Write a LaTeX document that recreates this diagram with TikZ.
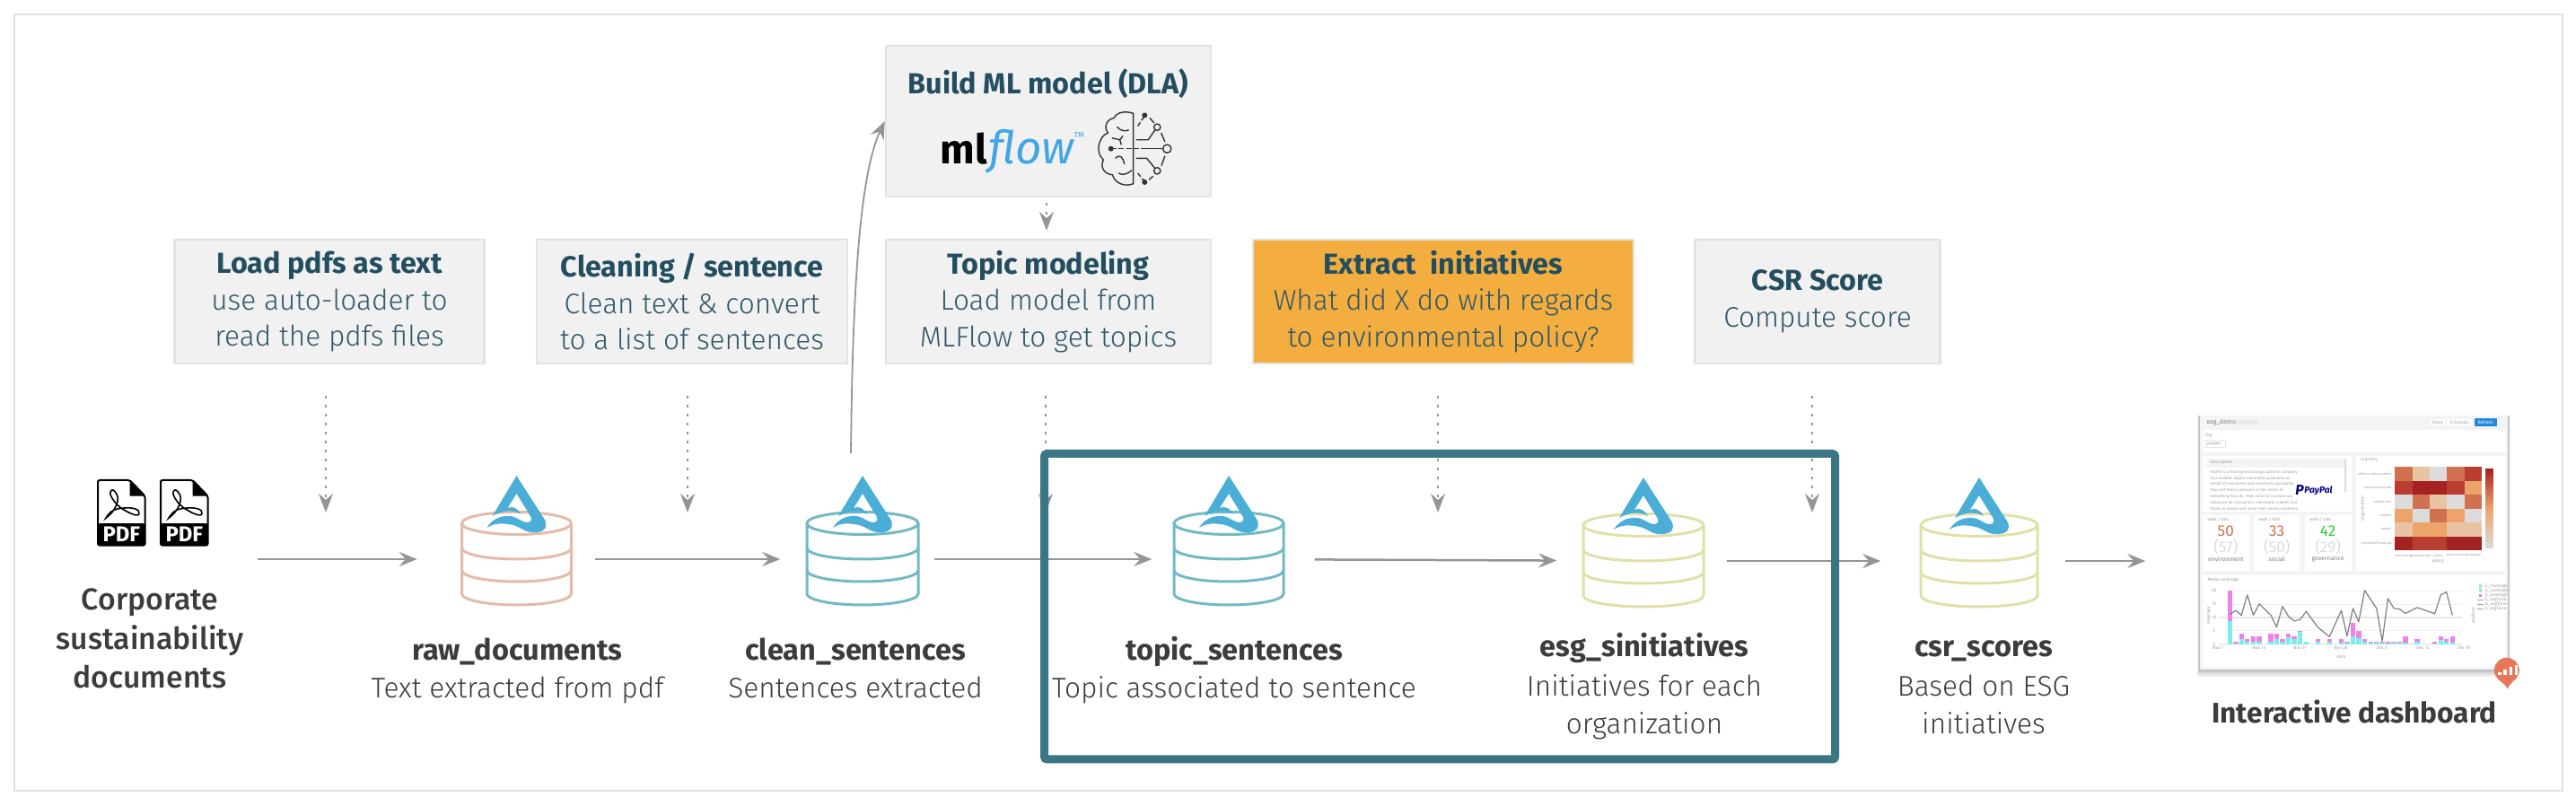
\documentclass[tikz,border=0pt]{standalone}
\usepackage{fontspec}
\setmainfont{Fira Sans}
\newfontfamily\lightface{Fira Sans Light}
\newfontfamily\mediumface{Fira Sans Medium}
\usetikzlibrary{arrows.meta,positioning,calc}
\definecolor{frameline}{HTML}{E0E0E0}
\definecolor{boxfill}{HTML}{F1F1F1}
\definecolor{boxline}{HTML}{E3E3E3}
\definecolor{boxhot}{HTML}{F4AE3F}
\definecolor{headtext}{HTML}{234E60}
\definecolor{bodytext}{HTML}{2F5768}
\definecolor{labeltext}{HTML}{3C3C3C}
\definecolor{flowgray}{HTML}{959595}
\definecolor{teamteal}{HTML}{3A7684}
\definecolor{lakeblue}{HTML}{4BAED6}
\definecolor{dbrose}{HTML}{E4BBA8}
\definecolor{dbteal}{HTML}{72B9C6}
\definecolor{dbolive}{HTML}{E0E1A8}
\definecolor{flowblue}{HTML}{43A5E8}
\definecolor{brainink}{HTML}{333333}
\definecolor{heatA}{HTML}{A52222}
\definecolor{heatB}{HTML}{B93E31}
\definecolor{heatC}{HTML}{D2714F}
\definecolor{heatD}{HTML}{ECA46A}
\definecolor{heatE}{HTML}{E9C4A4}
\definecolor{heatF}{HTML}{DCDCDC}
\definecolor{barpink}{HTML}{EE82E6}
\definecolor{barcyan}{HTML}{7EEDEA}
\definecolor{bargreen}{HTML}{9CF0A8}
\definecolor{pinorange}{HTML}{E8775A}
\definecolor{sheetgray}{HTML}{F3F4F5}
\definecolor{dashink}{HTML}{A0A0A0}
\tikzset{
  pics/lakedb/.style 2 args={code={
    % cylinder
    \draw[#1,line width=0.03cm] (0,0.40) ellipse [x radius=#2,y radius=0.125];
    \draw[#1,line width=0.03cm] (-#2,0.40) -- (-#2,-0.385)
      arc [start angle=180,end angle=360,x radius=#2,y radius=0.125] -- (#2,0.40);
    \draw[#1,line width=0.03cm] (-#2,0.125) arc [start angle=180,end angle=360,x radius=#2,y radius=0.125];
    \draw[#1,line width=0.03cm] (-#2,-0.125) arc [start angle=180,end angle=360,x radius=#2,y radius=0.125];
    % lake mark
    \begin{scope}[shift={(0,0.93)},x=0.01cm,y=-0.01cm]
      \fill[lakeblue] (0,0) -- (32,50) .. controls (35,59) and (30,64) .. (16,63)
        .. controls (8,62) and (4,57) .. (-4,55) .. controls (-14,53) and (-24,52) .. (-33,58)
        .. controls (-28,49) and (-18,44) .. (-7,45) .. controls (1,46) and (6,52) .. (11,52)
        .. controls (16,52) and (17,50) .. (16,46) -- (0,20) -- (-10,36)
        .. controls (-4,33) and (2,37) .. (5,43) .. controls (-3,38) and (-15,38) .. (-27,45) -- cycle;
    \end{scope}
  }},
  pics/pdficon/.style={code={
    \begin{scope}[x=0.00446cm,y=-0.00333cm]
      \draw[black,line width=0.02cm,fill=white,rounded corners=0.02cm] (0,0) -- (80,0) -- (118,53) -- (118,218) -- (0,218) -- cycle;
      \fill[black] (80,0) -- (118,53) -- (80,53) -- cycle;
      \fill[black,rounded corners=0.02cm] (0,145) rectangle (118,218);
      \draw[black,line width=0.016cm] plot[smooth cycle,tension=0.7] coordinates
        {(20,127) (40,100) (50,60) (38,33) (32,50) (55,90) (95,117) (102,103) (80,93) (40,100)};
      \node[text=white,font=\fontsize{6.8}{6.8}\selectfont\bfseries,inner sep=0] at (59,182) {PDF};
    \end{scope}
  }},
  stepbox/.style={rectangle, draw=boxline, fill=boxfill, line width=0.025cm, inner sep=0,
                  align=center, text=bodytext, font=\fontsize{9}{11.6}\selectfont\lightface},
  dbnode/.style={rectangle, inner sep=0, minimum height=1.02cm},
  dbname/.style={anchor=base, inner sep=0, text=labeltext, font=\fontsize{9.25}{11}\selectfont\bfseries},
  dbnote/.style={anchor=base, inner sep=0, text=labeltext, font=\fontsize{9}{11}\selectfont\lightface},
  sourcename/.style={anchor=base, inner sep=0, text=labeltext, font=\fontsize{9.6}{11}\selectfont\mediumface},
  flow/.style={draw=flowgray, line width=0.025cm, -{Stealth[length=0.2cm,width=0.16cm,inset=0.07cm]}},
  hint/.style={draw=flowgray, line width=0.025cm, dash pattern=on 0.025cm off 0.075cm,
               -{Stealth[length=0.21cm,width=0.16cm,inset=0.07cm]}},
  tiny/.style={inner sep=0, text=dashink, font=\fontsize{1.4}{2.3}\selectfont},
  statnum/.style={inner sep=0, font=\fontsize{4.9}{5}\selectfont},
  statname/.style={inner sep=0, text=dashink!80!black, font=\fontsize{1.95}{3}\selectfont}
}
\newcommand{\stephead}[1]{\textcolor{headtext}{\fontsize{9.2}{11.6}\selectfont\normalfont\bfseries #1}}
\begin{document}
\begin{tikzpicture}
\useasboundingbox (0,0) rectangle (28.7,8.98);
\draw[frameline,line width=0.025cm] (0.16,0.17) rectangle (28.55,8.82);

% step boxes
\node[stepbox,minimum width=3.45cm,minimum height=1.38cm] (loadbox) at (3.67,5.62)
  {\stephead{Load pdfs as text}\\use auto-loader to\\read the pdfs files};
\node[stepbox,minimum width=3.46cm,minimum height=1.38cm] (cleanbox) at (7.71,5.62)
  {\stephead{Cleaning / sentence}\\Clean text \& convert\\to a list of sentences};
\node[stepbox,minimum width=3.62cm,minimum height=1.38cm] (topicbox) at (11.68,5.62)
  {\stephead{Topic modeling}\\Load model from\\MLFlow to get topics};
\node[stepbox,fill=boxhot,minimum width=4.24cm,minimum height=1.38cm] (extractbox) at (16.08,5.62)
  {\stephead{Extract\ \ initiatives}\\What did X do with regards\\to environmental policy?};
\node[stepbox,minimum width=2.73cm,minimum height=1.38cm] (csrbox) at (20.25,5.62)
  {\stephead{CSR Score}\\Compute score};
\node[stepbox,minimum width=3.62cm,minimum height=1.68cm] (buildbox) at (11.68,7.63) {};
\node[inner sep=0] (buildtitle) at (11.68,8.05) {\stephead{Build ML model (DLA)}};

% mlflow word
\node[anchor=base west,inner sep=0,text=black,font=\fontsize{13}{13}\selectfont\bfseries] (mlword) at (10.47,7.15) {ml};
\node[anchor=base west,inner sep=0,text=flowblue,font=\fontsize{14.5}{15}\selectfont\itshape] (flowword) at (mlword.base east) {flow};
\node[anchor=west,inner sep=0,text=flowblue,font=\fontsize{2.5}{3}\selectfont] (flowtm) at (11.96,7.48) {TM};

% brain
\begin{scope}[shift={(9.5,8.68)},x=0.003333cm,y=-0.003333cm,brainink,line width=0.014cm]
  \draw[line cap=round] (940,290) .. controls (915,280) and (885,285) .. (875,305)
    .. controls (850,310) and (840,335) .. (855,355) .. controls (825,365) and (810,420) .. (840,445)
    .. controls (825,475) and (850,495) .. (870,495) .. controls (880,530) and (920,535) .. (940,525) -- cycle;
  \draw (885,335) .. controls (900,350) and (915,350) .. (925,345);
  \draw (868,372) -- (895,378) -- (905,365);
  \draw (895,378) -- (900,395);
  \draw (880,440) .. controls (895,425) and (905,435) .. (910,460);
  \draw (890,490) .. controls (905,500) and (925,490) .. (935,480);
  \draw[dash pattern=on 0.06cm off 0.025cm] (865,408) -- (965,408);
  \draw (965,408) -- (1040,408);
  \fill (865,408) circle [radius=9];
  \draw (950,378) -- (990,378) -- (1013,345);
  \draw (950,440) -- (985,440) -- (1012,473);
  \draw[dash pattern=on 0.05cm off 0.025cm] (955,332) -- (975,302);
  \draw[dash pattern=on 0.05cm off 0.025cm] (955,490) -- (975,515);
  \fill (978,296) circle [radius=9];
  \fill (978,520) circle [radius=9];
  \draw (1020,336) circle [radius=11];
  \draw (1053,408) circle [radius=14];
  \draw (1020,482) circle [radius=11];
  \draw (995,305) -- (1010,322);
  \draw (1033,355) -- (1046,385);
  \draw (1046,432) -- (1034,465);
  \draw (1006,500) -- (993,512);
\end{scope}

% dotted feeds
\coordinate (loadin) at (3.63,3.27);
\coordinate (cleanin) at (7.66,3.27);
\coordinate (topicin) at (11.65,3.27);
\coordinate (extractin) at (16.02,3.27);
\coordinate (csrin) at (20.19,3.27);
\draw[hint,shorten <=0.35cm] (loadbox.south -| loadin) -- (loadin);
\draw[hint,shorten <=0.35cm] (cleanbox.south -| cleanin) -- (cleanin);
\draw[hint,shorten <=0.35cm] (topicbox.south -| topicin) -- (topicin);
\draw[hint,shorten <=0.35cm] (extractbox.south -| extractin) -- (extractin);
\draw[hint,shorten <=0.35cm] (csrbox.south -| csrin) -- (csrin);
\coordinate (topicup) at (11.66,6.41);
\draw[hint,shorten <=0.06cm] (buildbox.south -| topicup) -- (topicup);

% tables
\node[dbnode,minimum width=1.22cm] (rawdb) at (5.755,2.75) {};
\node[dbnode,minimum width=1.24cm] (cleandb) at (9.61,2.75) {};
\node[dbnode,minimum width=1.22cm] (topicdb) at (13.69,2.75) {};
\node[dbnode,minimum width=1.34cm] (esgdb) at (18.31,2.73) {};
\node[dbnode,minimum width=1.30cm] (csrdb) at (22.05,2.73) {};
\pic at (rawdb) {lakedb={dbrose}{0.61}};
\pic at (cleandb) {lakedb={dbteal}{0.62}};
\pic at (topicdb) {lakedb={dbteal}{0.61}};
\pic at (esgdb) {lakedb={dbolive}{0.67}};
\pic at (csrdb) {lakedb={dbolive}{0.65}};

% source pdfs
\pic at (1.09,3.63) {pdficon};
\pic at (1.79,3.63) {pdficon};
\node[sourcename] (sourceone) at (1.67,2.18) {Corporate};
\node[sourcename] (sourcetwo) at (1.67,1.74) {sustainability};
\node[sourcename] (sourcethree) at (1.67,1.31) {documents};

% dashboard
\node[rectangle,inner sep=0,minimum width=3.44cm,minimum height=2.84cm] (dash) at (26.23,2.93) {};
\begin{scope}[shift={(24,4.58)},x=0.003333cm,y=-0.003333cm]
  \foreach \sh in {24,18,13,8,4}
    \fill[black,opacity=0.06] (152-\sh/3,70) rectangle (1185+\sh/3,920+\sh);
  \fill[sheetgray] (152,70) rectangle (1185,920);
  \foreach \pa/\pb/\pc/\pd in {162/118/1177/193,162/203/662/392,162/403/320/590,333/403/491/590,504/403/662/590,675/203/1177/590,162/603/1177/910}
    \fill[white] (\pa,\pb) rectangle (\pc,\pd);
  % header
  \node[inner sep=0,text=dashink!80!black,font=\fontsize{2}{3}\selectfont] (dashtitle) at (225,92) {esg\_demo};
  \fill[heatF!60] (277,85) rectangle (350,99);
  \fill[white] (926,81) rectangle (975,103);
  \fill[white] (984,81) rectangle (1063,103);
  \fill[blue!45!cyan!70!gray] (1072,79) rectangle (1147,104);
  \node[tiny] (dashshare) at (950,92) {Share};
  \node[tiny] (dashsched) at (1022,92) {Schedule};
  \node[tiny,text=white] (dashrefresh) at (1110,92) {Refresh};
  \node[tiny] (dashorg) at (182,137) {Org};
  \draw[heatF!70,line width=0.005cm] (172,150) rectangle (238,176);
  \node[tiny] (dashpick) at (200,163) {paypal};
  % description
  \fill[sheetgray] (178,213) rectangle (645,243);
  \node[tiny,anchor=west] (dashdesc) at (185,227) {description};
  \node[tiny,anchor=north west,align=left,font=\fontsize{1.25}{1.95}\selectfont] (dashabout) at (185,250)
    {PayPal is a leading technology platform company\\that enables digital and mobile payments on\\behalf of consumers and merchants worldwide.\\They put their customers at the center of\\everything they do. They strive to increase our\\relevance for consumers, merchants, friends and\\family to access and move their money anywhere};
  \fill[heatF] (637,215) rectangle (644,325);
  \node[inner sep=0,text=blue!50!black,font=\fontsize{2.9}{3.5}\selectfont\bfseries\itshape] (dashpp) at (550,322) {PayPal};
  \node[inner sep=0,text=blue!50!black,font=\fontsize{4.5}{5}\selectfont\bfseries\itshape] (dashppmark) at (487,320) {P};
  % stat tiles
  \foreach \tx/\tn/\tp/\tw/\tc in {240/50/57/environment/heatC,411/33/50/social/heatC,582/42/29/governance/green!60!gray}{
    \node[tiny,anchor=west] at (\tx-63,418) {walk / talk};
    \node[statnum,text=\tc] at (\tx,457) {\tn};
    \node[statnum,text=heatF] at (\tx,511) {(\tp)};
    \node[statname] at (\tx,550) {\tw};
  }
  % heat map
  \node[tiny,anchor=west] (dashind) at (690,217) {industry};
  \foreach \hrow/\hlist in {0/{heatC,heatE,heatF,heatC,heatB},1/{heatB,heatA,heatA,heatB,heatD},2/{heatF,heatC,heatE,heatF,heatC},3/{heatD,heatF,heatC,heatD,heatF},4/{heatE,heatD,heatD,heatE,heatE},5/{heatA,heatB,heatB,heatA,heatA}}
    \foreach \hc [count=\hi from 0] in \hlist
      \fill[\hc] (807+58*\hi,242+46.4*\hrow) rectangle (865+58*\hi,288.4+46.4*\hrow);
  \foreach \hl [count=\hi from 0] in {alliance data systems,american express,capital one,equifax,paypal,provident financial}
    \node[tiny,anchor=east,font=\fontsize{1.1}{2}\selectfont] at (797,265+46.4*\hi) {\hl};
  \foreach \hl [count=\hi from 0] in {community,environment,ethics,governance,workplace}
    \node[tiny,font=\fontsize{1.1}{2}\selectfont] at (836+58*\hi,538) {\hl};
  \node[tiny] (dashpolicy) at (951,556) {policy};
  \node[tiny,rotate=90] (dashorgan) at (698,380) {organisation};
  \shade[top color=heatA,bottom color=heatF,middle color=heatD] (1110,248) rectangle (1136,512);
  % coverage chart
  \node[tiny,anchor=west] (dashmedia) at (177,620) {Media coverage};
  \foreach \gy in {655,700,790}
    \draw[heatF!40,line width=0.006cm] (240,\gy) -- (1030,\gy);
  \draw[heatF!70,line width=0.015cm] (215,746) -- (1030,746);
  \draw[heatF,line width=0.006cm] (215,835) -- (1030,835);
  \foreach \bx/\bt/\bc in {254/20/8.5,273/1/0.3,292/4/2,312/2/1,332/3/1,352/3/1,391/4/1,410/4/2,430/2/1,450/4/2.5,469/3/2,489/5/4.5,509/1/1,548/2/1,587/2/1,627/2/0.5,646/1/0.5,666/8/2.8,685/5/2.3,705/2/1,725/1/0.5,745/1/0.5,764/1/0.5,783/1/0.1,803/1/0.5,823/1/0.5,842/3/0.5,881/2/1,940/1/0.1,960/3/1.5,979/2/1,999/3/0.5}{
    \fill[barpink] (\bx-8,835-9*\bt) rectangle (\bx+8,835);
    \fill[barcyan] (\bx-8,835-9*\bc) rectangle (\bx+8,835);
  }
  \draw[gray,line width=0.012cm,line join=round] (254,735) -- (273,722) -- (292,738) -- (312,670) -- (332,738) -- (352,700) -- (391,738) -- (410,778) -- (430,708) -- (450,742) -- (469,757) -- (489,753) -- (509,725) -- (548,778) -- (587,810) -- (627,722) -- (646,808) -- (666,715) -- (685,760) -- (705,655) -- (745,715) -- (764,825) -- (783,682) -- (803,715) -- (823,718) -- (842,732) -- (881,712) -- (940,733) -- (960,670) -- (979,660) -- (999,738);
  \foreach \ay/\al in {655/20,700/15,745/10,790/5,835/0}
    \node[tiny] at (201,\ay) {\al};
  \foreach \ax/\al in {215/Nov 7,351/Nov 14,488/Nov 21,625/Nov 28,763/Dec 5,900/Dec 12,1037/Dec 19}
    \node[tiny] at (\ax,848) {\al};
  \node[tiny] (dashdate) at (626,878) {date};
  \node[tiny,rotate=90] (dashcov) at (184,739) {coverage};
  \node[tiny,rotate=90] (dashavg) at (1070,739) {avgTone};
  \foreach \ly/\lc/\ll in {640/bargreen/E\_coverage,655/barcyan/G\_coverage,671/barpink/S\_coverage}{
    \fill[\lc] (1087,\ly-5) rectangle (1097,\ly+5);
    \node[tiny,anchor=west] at (1107,\ly) {\ll};
  }
  \foreach \ly/\ll in {686/E\_avgTone,701/G\_avgTone,716/S\_avgTone}{
    \draw[dashink,line width=0.008cm] (1081,\ly) -- (1103,\ly);
    \node[tiny,anchor=west] at (1107,\ly) {\ll};
  }
  % report pin
  \fill[pinorange] (1181,922) circle [radius=42];
  \fill[pinorange] (1150,950) .. controls (1165,965) and (1178,970) .. (1183,985) .. controls (1188,975) and (1200,960) .. (1212,950) -- cycle;
  \fill[white] (1152,930) rectangle (1162,938);
  \fill[white] (1170,921) rectangle (1181,938);
  \fill[white] (1190,912) rectangle (1200,938);
  \fill[white] (1209,904) rectangle (1218,938);
\end{scope}
\node[dbname,font=\fontsize{9}{11}\selectfont\bfseries] (dashlabel) at (26.23,0.92) {Interactive dashboard};

% table labels
\node[dbname] (rawname) at (5.765,1.62) {raw\_documents};
\node[dbnote] (rawnote) at (5.765,1.20) {Text extracted from pdf};
\node[dbname] (cleanname) at (9.53,1.62) {clean\_sentences};
\node[dbnote] (cleannote) at (9.53,1.20) {Sentences extracted};
\node[dbname] (topicname) at (13.75,1.62) {topic\_sentences};
\node[dbnote] (topicnote) at (13.75,1.20) {Topic associated to sentence};
\node[dbname] (esgname) at (18.32,1.66) {esg\_sinitiatives};
\node[dbnote] (esgnote) at (18.32,1.22) {Initiatives for each};
\node[dbnote] (esgnotetwo) at (18.32,0.80) {organization};
\node[dbname] (csrname) at (22.10,1.66) {csr\_scores};
\node[dbnote] (csrnote) at (22.10,1.22) {Based on ESG};
\node[dbnote] (csrnotetwo) at (22.10,0.80) {initiatives};

% main flow
\coordinate (sourceout) at (2.87,2.75);
\draw[flow,shorten >=0.49cm] (sourceout) -- (rawdb);
\draw[flow,shorten <=0.26cm,shorten >=0.29cm] (rawdb) -- (cleandb);
\draw[flow,shorten <=0.17cm,shorten >=0.24cm] (cleandb) -- (topicdb);
\draw[flow,shorten <=0.34cm,shorten >=0.29cm] (topicdb) -- (esgdb);
\draw[flow,shorten <=0.25cm,shorten >=0.44cm] (esgdb) -- (csrdb);
\draw[flow,shorten <=0.30cm,shorten >=0.60cm] (csrdb) -- (csrdb -| dash.west);
\coordinate (cleantop) at (9.48,3.93);
\draw[flow,line width=0.018cm] (cleantop) .. controls (9.5,5.98) and (9.6,7.08) .. (buildbox.west);

% highlight
\draw[teamteal,line width=0.09cm,rounded corners=0.03cm] (11.635,3.925) rectangle (20.445,0.52);
\end{tikzpicture}
\end{document}
